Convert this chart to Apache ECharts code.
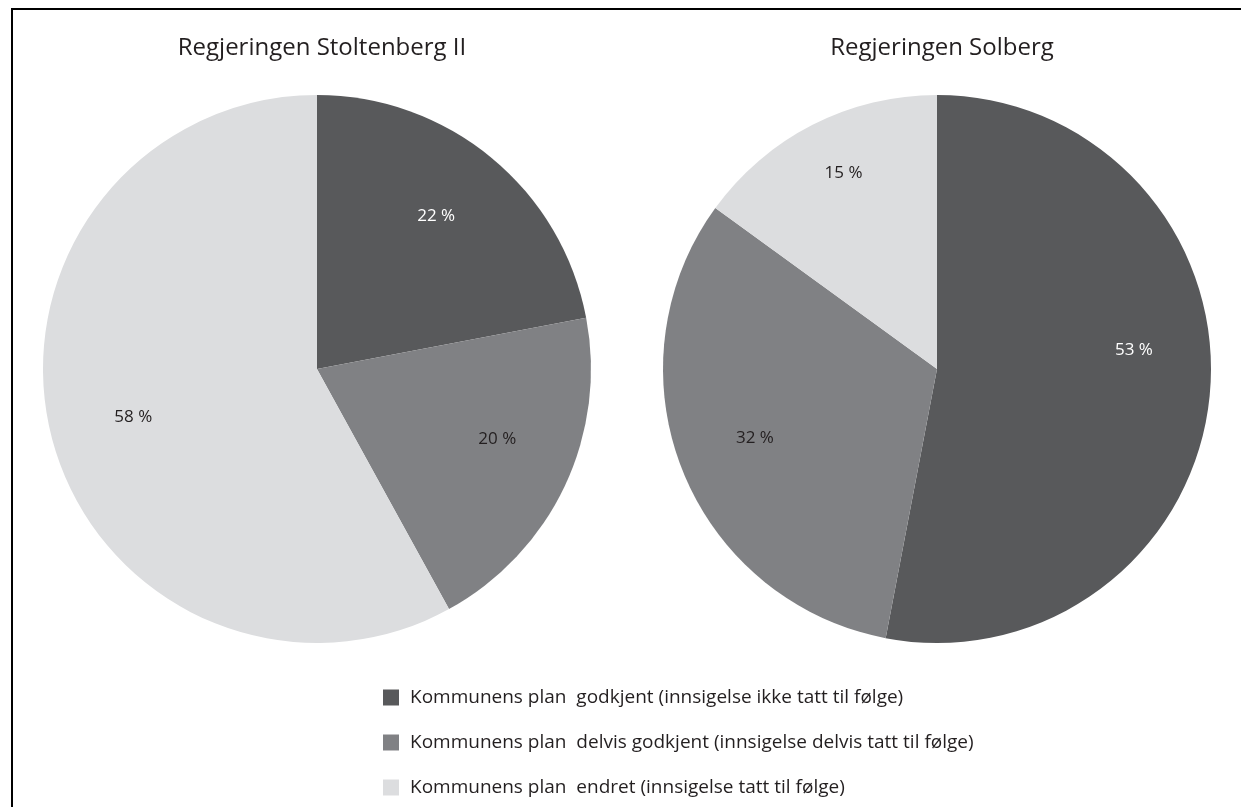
<!DOCTYPE html>
<html>
<head>
<meta charset="utf-8">
<script src="https://cdn.jsdelivr.net/npm/echarts@6/dist/echarts.min.js"></script>
<style>
  html, body { margin: 0; padding: 0; background: #fff; }
  #chart { width: 1241px; height: 807px; }
</style>
</head>
<body>
<div id="chart"></div>
<script>
// categories (legend)
const categories = [
  'Kommunens plan  godkjent (innsigelse ikke tatt til følge)',
  'Kommunens plan  delvis godkjent (innsigelse delvis tatt til følge)',
  'Kommunens plan  endret (innsigelse tatt til følge)'
]
const titles = ['Regjeringen Stoltenberg II', 'Regjeringen Solberg']
// share in percent
const stoltenberg = [22, 20, 58]
const solberg = [53, 32, 15]

const colors = ['#58595b', '#808184', '#dcdddf']
const labelColors = ['#ffffff', '#231f20', '#231f20']
const font = '"Open Sans", "Noto Sans", sans-serif'

const centers = [[317, 369], [937, 369]]
const R = 274
// nudges so the labels sit where the original put them
const labelNudges = [
  [[-5, -3], [4, -13], [5, 0]],
  [[3, -37], [-1, -3], [-5, -22]]
]

function pieSeries(values, center, nudges) {
  return [
    {
      type: 'pie',
      center: center,
      radius: [0, R],
      startAngle: 90,
      clockwise: true,
      silent: true,
      animation: false,
      label: { show: false },
      labelLine: { show: false },
      emphasis: { disabled: true },
      itemStyle: { borderWidth: 0 },
      data: values.map((v, i) => ({
        name: categories[i],
        value: v,
        itemStyle: { color: colors[i] }
      }))
    },
    {
      // label ring: puts the labels at about 70% of the radius
      type: 'pie',
      center: center,
      radius: [R * 0.4, R],
      startAngle: 90,
      clockwise: true,
      silent: true,
      animation: false,
      emphasis: { disabled: true },
      itemStyle: { color: 'rgba(0,0,0,0)', borderWidth: 0 },
      label: {
        show: true,
        position: 'inside',
        formatter: p => p.value + ' %',
        fontFamily: font,
        fontSize: 17
      },
      labelLine: { show: false },
      data: values.map((v, i) => ({
        name: categories[i],
        value: v,
        itemStyle: { color: 'rgba(0,0,0,0)' },
        label: { color: labelColors[i], offset: nudges[i] }
      }))
    }
  ]
}

const chart = echarts.init(document.getElementById('chart'), null, { renderer: 'canvas' })
chart.setOption({
  backgroundColor: '#ffffff',
  animation: false,
  title: titles.map((t, i) => ({
    text: t,
    left: centers[i][0],
    top: 31,
    textAlign: 'center',
    textStyle: { fontFamily: font, fontSize: 24, fontWeight: 'normal', color: '#231f20' }
  })),
  legend: {
    orient: 'vertical',
    left: 383,
    top: 688,
    padding: 0,
    icon: 'rect',
    itemWidth: 16,
    itemHeight: 16,
    itemGap: 26,
    selectedMode: false,
    data: categories,
    textStyle: { fontFamily: font, fontSize: 19, lineHeight: 16, color: '#231f20', padding: [0, 0, 0, 6] }
  },
  graphic: [{
    type: 'rect',
    shape: { x: 12, y: 9, width: 2000, height: 2000 },
    style: { fill: 'none', stroke: '#000', lineWidth: 2 },
    silent: true
  }],
  series: [...pieSeries(stoltenberg, centers[0], labelNudges[0]), ...pieSeries(solberg, centers[1], labelNudges[1])]
})
</script>
</body>
</html>
